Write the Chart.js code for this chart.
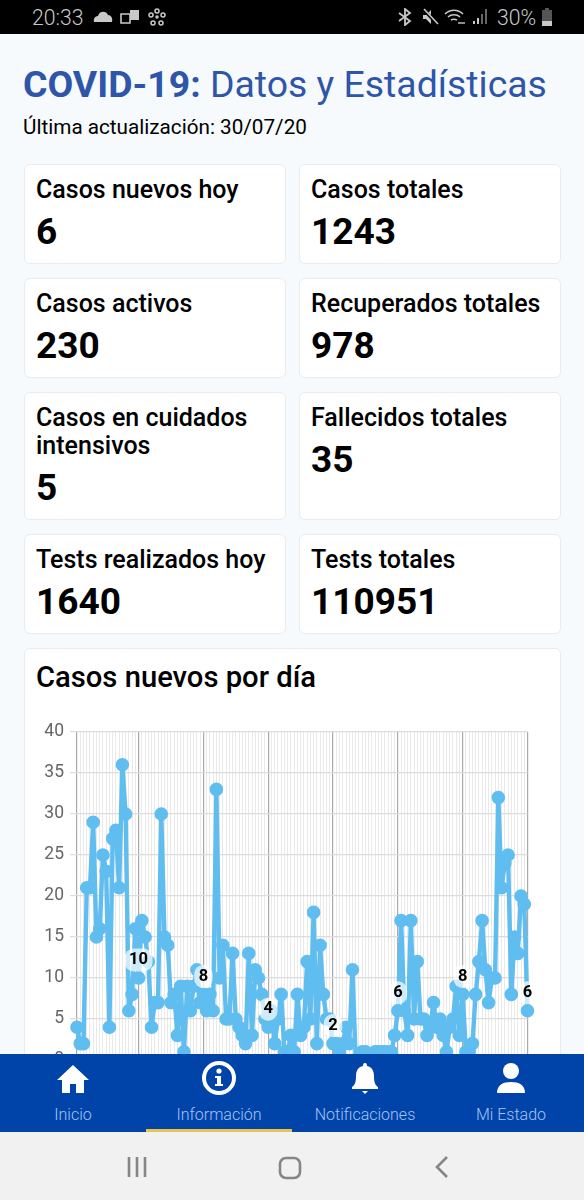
<!DOCTYPE html>
<html lang="es">
<head>
<meta charset="utf-8">
<title>COVID-19: Datos y Estadísticas</title>
<script src="https://cdn.jsdelivr.net/npm/chart.js@4"></script>
<style>
    * { box-sizing: border-box; }
    html, body { margin: 0; padding: 0; }
    body { width: 584px; height: 1200px; overflow: hidden; position: relative; background: #f6fafc; font-family: Roboto, sans-serif; color: #000; }
    .status-bar { position: absolute; left: 0; top: 0; width: 584px; height: 34px; background: #000; color: #c9c9c9; font-size: 21.2px; font-weight: 300; }
    .status-bar span { position: absolute; top: 6px; line-height: 24px; }
    .status-bar svg { position: absolute; top: 8px; }
    h1 { position: absolute; left: 23px; top: 62px; margin: 0; font-size: 37.4px; line-height: 44px; font-weight: 400; color: #2f55a9; white-space: nowrap; }
    h1 b { font-weight: 700; }
    .updated { position: absolute; left: 23px; top: 114px; font-size: 20.7px; line-height: 26px; white-space: nowrap; }
    .cards { position: absolute; left: 24px; top: 164px; width: 537px; display: grid; grid-template-columns: 262px 262px; grid-template-rows: 100px 100px 128px 100px; column-gap: 13px; row-gap: 14px; }
    .card { background: #fff; border: 1px solid #e8ecee; border-radius: 6px; padding: 11px 11px 9px; }
    .card .name { font-size: 25px; line-height: 28px; font-weight: 500; }
    .card .value { font-size: 37px; line-height: 44px; font-weight: 700; margin-top: 6px; }
    .chart-card { position: absolute; left: 24px; top: 648px; width: 537px; height: 600px; background: #fff; border: 1px solid #e8ecee; border-radius: 6px; }
    .chart-card h2 { position: absolute; left: 11px; top: 12px; margin: 0; font-size: 29.2px; line-height: 32px; font-weight: 500; white-space: nowrap; }
    .chart-wrap { position: absolute; left: 0; top: 60px; width: 535px; height: 400px; }
    .nav { position: absolute; left: 0; top: 1054px; width: 584px; height: 78px; background: #0043a9; }
    .nav .item { position: absolute; top: 0; width: 146px; height: 78px; text-align: center; }
    .nav .item svg { position: absolute; left: 50%; top: 7px; transform: translateX(-50%); }
    .nav .item span { position: absolute; left: 0; width: 100%; top: 51px; font-size: 16px; line-height: 20px; font-weight: 300; color: #a5c4f2; }
    .nav .active { position: absolute; left: 146px; top: 75px; width: 146px; height: 3px; background: #e9c550; }
    .system-bar { position: absolute; left: 0; top: 1132px; width: 584px; height: 68px; background: #f1f1f1; }
    .system-bar svg { position: absolute; top: 23px; }
</style>
</head>
<body>
<div class="status-bar">
    <span style="left:32px">20:33</span>
    <svg style="left:93px" width="20" height="16" viewBox="0 0 20 16"><path d="M1 14c-1-4 2-6 4-6 1-5 8-6 10-1 3 0 5 3 4 7z" fill="#c9c9c9"/></svg>
    <svg style="left:120px" width="20" height="18" viewBox="0 0 20 18"><path d="M1 6h9v9H1z" fill="none" stroke="#c9c9c9" stroke-width="1.6"/><path d="M10 2h9v10h-9z" fill="#c9c9c9"/></svg>
    <svg style="left:148px" width="18" height="18" viewBox="0 0 18 18"><g fill="none" stroke="#c9c9c9" stroke-width="1.5"><circle cx="9" cy="3" r="2"/><circle cx="3" cy="7" r="2"/><circle cx="15" cy="7" r="2"/><circle cx="9" cy="9" r="1"/><circle cx="5" cy="15" r="2"/><circle cx="13" cy="15" r="2"/></g></svg>
    <svg style="left:397px" width="16" height="18" viewBox="0 0 16 18"><path d="M2 5l11 8-5 4V1l5 4-11 8" fill="none" stroke="#c9c9c9" stroke-width="1.8"/></svg>
    <svg style="left:421px" width="18" height="18" viewBox="0 0 18 18"><path d="M2 7h3l5-5v14l-5-5H2z" fill="#c9c9c9"/><path d="M2 1l15 16" stroke="#000" stroke-width="3"/><path d="M3 1l14 15" stroke="#c9c9c9" stroke-width="1.6"/></svg>
    <svg style="left:444px" width="22" height="18" viewBox="0 0 22 18"><g fill="none" stroke="#c9c9c9" stroke-width="1.5"><path d="M1 6c5-5 13-5 18 0"/><path d="M4 9c3-3 9-3 12 0"/><path d="M7 12c2-1 4-1 6 0"/></g><path d="M14 15h7" stroke="#c9c9c9" stroke-width="1.4"/></svg>
    <svg style="left:472px" width="16" height="18" viewBox="0 0 16 18"><path d="M1 13h2v3H1zM5 10h2v6H5z" fill="#c9c9c9"/><path d="M9 6h2v10H9zM13 1h2v15h-2z" fill="#666"/></svg>
    <span style="left:497px">30%</span>
    <svg style="left:541px" width="12" height="20" viewBox="0 0 12 20"><path d="M4 0h4v2h3v11H1V2h3z" fill="#555"/><path d="M1 13h10v5H1z" fill="#c9c9c9"/></svg>
</div>

<h1><b>COVID-19:</b> Datos y Estadísticas</h1>
<div class="updated">Última actualización: 30/07/20</div>

<div class="cards" id="cards"></div>

<div class="chart-card">
    <h2>Casos nuevos por día</h2>
    <div class="chart-wrap"><canvas id="daily-cases-chart"></canvas></div>
</div>

<div class="nav">
    <div class="item" style="left:0">
        <svg width="34" height="34" viewBox="0 0 34 34"><path d="M17 4L1 19h5v13h8v-9h6v9h8V19h5z" fill="#fff"/></svg>
        <span>Inicio</span>
    </div>
    <div class="item" style="left:146px">
        <svg width="36" height="38" viewBox="0 0 36 38" style="top:5px"><circle cx="18" cy="19" r="15" fill="none" stroke="#fff" stroke-width="4"/><circle cx="18" cy="12" r="2.6" fill="#fff"/><path d="M14 17h6v8h2v2h-8v-2h2v-6h-2z" fill="#fff"/></svg>
        <span>Información</span>
    </div>
    <div class="item" style="left:292px">
        <svg width="28" height="34" viewBox="0 0 28 34"><path d="M14 2c2 0 2 2 2 3 5 1 7 5 7 10 0 6 1 9 4 11v2H1v-2c3-2 4-5 4-11 0-5 2-9 7-10 0-1 0-3 2-3z" fill="#fff"/><path d="M11 30h6l-3 3z" fill="#fff"/></svg>
        <span>Notificaciones</span>
    </div>
    <div class="item" style="left:438px">
        <svg width="32" height="34" viewBox="0 0 32 34"><circle cx="16" cy="10" r="8" fill="#fff"/><path d="M2 32c0-8 6-11 14-11s14 3 14 11z" fill="#fff"/></svg>
        <span>Mi Estado</span>
    </div>
    <div class="active"></div>
</div>

<div class="system-bar">
    <svg style="left:126px" width="22" height="24" viewBox="0 0 22 24"><path d="M3 2v20M11 2v20M19 2v20" stroke="#868686" stroke-width="2.6" fill="none"/></svg>
    <svg style="left:277px" width="26" height="26" viewBox="0 0 26 26"><rect x="3" y="3" width="20" height="20" rx="6" stroke="#868686" stroke-width="2.6" fill="none"/></svg>
    <svg style="left:432px" width="20" height="24" viewBox="0 0 20 24"><path d="M15 2L5 12l10 10" stroke="#868686" stroke-width="2.6" fill="none"/></svg>
</div>

<script>
// Summary cards
const cardNames = ['Casos nuevos hoy', 'Casos totales', 'Casos activos', 'Recuperados totales',
    'Casos en cuidados intensivos', 'Fallecidos totales', 'Tests realizados hoy', 'Tests totales'];
const cardValues = ['6', '1243', '230', '978', '5', '35', '1640', '110951'];

// Days shown on the chart, 13/03 to 30/07
const days = [
    '13/03','14/03','15/03','16/03','17/03','18/03','19/03','20/03','21/03','22/03','23/03','24/03','25/03','26/03','27/03','28/03','29/03','30/03','31/03',
    '01/04','02/04','03/04','04/04','05/04','06/04','07/04','08/04','09/04','10/04','11/04','12/04','13/04','14/04','15/04','16/04','17/04','18/04','19/04','20/04','21/04','22/04','23/04','24/04','25/04','26/04','27/04','28/04','29/04','30/04',
    '01/05','02/05','03/05','04/05','05/05','06/05','07/05','08/05','09/05','10/05','11/05','12/05','13/05','14/05','15/05','16/05','17/05','18/05','19/05','20/05','21/05','22/05','23/05','24/05','25/05','26/05','27/05','28/05','29/05','30/05','31/05',
    '01/06','02/06','03/06','04/06','05/06','06/06','07/06','08/06','09/06','10/06','11/06','12/06','13/06','14/06','15/06','16/06','17/06','18/06','19/06','20/06','21/06','22/06','23/06','24/06','25/06','26/06','27/06','28/06','29/06','30/06',
    '01/07','02/07','03/07','04/07','05/07','06/07','07/07','08/07','09/07','10/07','11/07','12/07','13/07','14/07','15/07','16/07','17/07','18/07','19/07','20/07','21/07','22/07','23/07','24/07','25/07','26/07','27/07','28/07','29/07','30/07'
];

// New cases per day
const newCases = [
    4, 2, 2, 21, 21, 29, 15, 16, 25, 23, 4, 27, 28, 21, 36, 30, 6, 8, 16, 10,
    17, 15, 12, 4, 7, 7, 30, 15, 14, 7, 8, 3, 9, 1, 9, 6, 9, 11, 7, 8,
    6, 8, 6, 33, 10, 14, 5, 5, 13, 5, 4, 3, 2, 13, 3, 11, 10, 8, 5, 4,
    6, 2, 5, 8, 1, 1, 3, 1, 8, 3, 4, 12, 5, 18, 2, 14, 8, 5, 5, 2,
    2, 1, 2, 4, 2, 11, 0, 0, 1, 1, 0, 0, 1, 1, 1, 1, 1, 1, 3, 6,
    17, 6, 3, 17, 5, 12, 5, 5, 3, 4, 7, 4, 5, 3, 1, 4, 5, 9, 3, 8,
    1, 1, 2, 8, 12, 17, 11, 7, 10, 10, 32, 21, 24, 25, 8, 15, 13, 20, 19, 6
];

const yTicks = [0, 5, 10, 15, 20, 25, 30, 35, 40];

const LABEL_EVERY = 20;

function isLabelledDay(index) {
    return (index + 1) % LABEL_EVERY === 0;
}

// Draw the summary cards
document.getElementById('cards').innerHTML = cardNames.map((name, i) => `
    <div class="card">
        <div class="name">${name}</div>
        <div class="value">${cardValues[i]}</div>
    </div>
`).join('');

// Value labels over every 20th point
const pointLabels = {
    id: 'pointLabels',
    afterDatasetsDraw(chart) {
        const ctx = chart.ctx;
        const points = chart.getDatasetMeta(0).data;
        ctx.save();
        ctx.font = '700 16.5px Roboto';
        ctx.textAlign = 'center';
        ctx.textBaseline = 'middle';
        points.forEach((point, i) => {
            if (!isLabelledDay(i)) return;
            const text = String(newCases[i]);
            const w = ctx.measureText(text).width + 9;
            const h = 23;
            const y = point.y - 18;
            ctx.fillStyle = 'rgba(255, 255, 255, 0.7)';
            ctx.beginPath();
            ctx.roundRect(point.x - w / 2, y - h / 2, w, h, 9);
            ctx.fill();
            ctx.fillStyle = '#000';
            ctx.fillText(text, point.x, y);
        });
        ctx.restore();
    }
};

new Chart(document.getElementById('daily-cases-chart'), {
    type: 'line',
    data: {
        labels: days,
        datasets: [{
            data: newCases,
            borderColor: '#5fbdef',
            backgroundColor: '#5fbdef',
            borderWidth: 4.4,
            borderJoinStyle: 'round',
            pointRadius: 4.6,
            pointHoverRadius: 4.6,
            tension: 0,
            fill: false,
            clip: false
        }]
    },
    options: {
        responsive: true,
        maintainAspectRatio: false,
        animation: false,
        layout: { padding: { top: 23, right: 32.5, bottom: 49, left: 0 } },
        plugins: { legend: { display: false }, tooltip: { enabled: false } },
        scales: {
            x: {
                ticks: { display: false, autoSkip: false },
                grid: {
                    color: ctx => isLabelledDay(ctx.index) || ctx.index === 0 ? '#a9a9a9' : '#e3e3e3',
                    lineWidth: ctx => isLabelledDay(ctx.index) || ctx.index === 0 ? 1.2 : 0.8,
                    drawTicks: false
                },
                border: { display: false }
            },
            y: {
                min: 0,
                max: 40,
                afterBuildTicks: scale => { scale.ticks = yTicks.map(value => ({ value })); },
                afterFit: scale => { scale.width = 52; },
                ticks: { color: '#666', font: { family: 'Roboto', size: 17.5 }, padding: 6 },
                grid: { color: '#dcdcdc', lineWidth: 1.2, tickLength: 7 },
                border: { display: false }
            }
        }
    },
    plugins: [pointLabels]
});
</script>
</body>
</html>
